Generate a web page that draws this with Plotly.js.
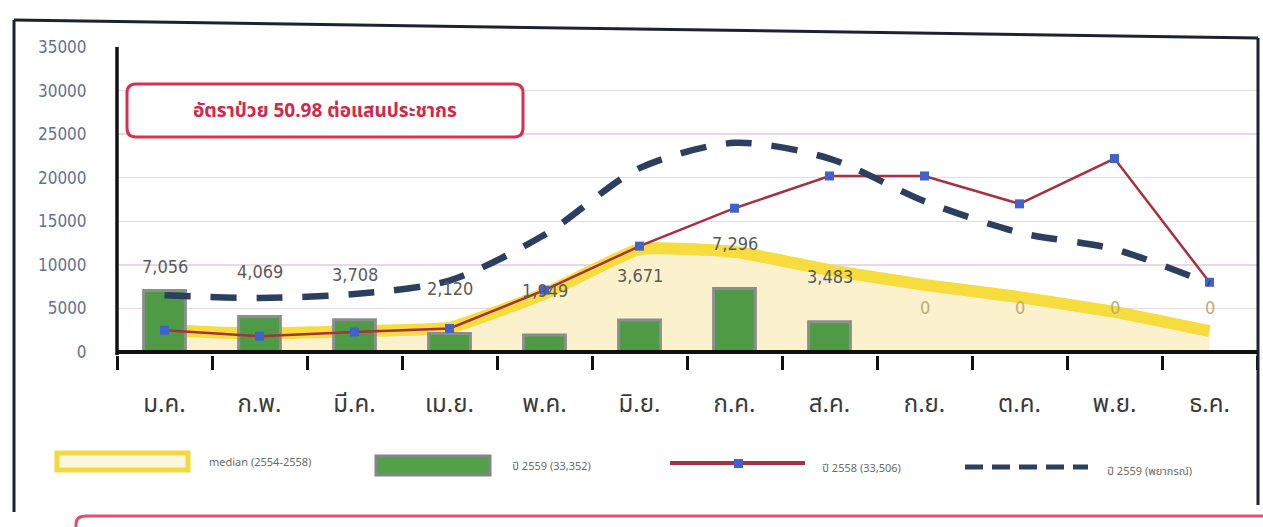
<!DOCTYPE html>
<html>
<head>
<meta charset="utf-8">
<script src="https://cdn.plot.ly/plotly-3.0.1.min.js"></script>
<style>
html,body{margin:0;padding:0;background:#fff;}
#chart{width:1263px;height:527px;}
</style>
</head>
<body>
<div id="chart"></div>
<script>
// ---- data ----
const months = ['ม.ค.','ก.พ.','มี.ค.','เม.ย.','พ.ค.','มิ.ย.','ก.ค.','ส.ค.','ก.ย.','ต.ค.','พ.ย.','ธ.ค.'];
const median = [2500, 2100, 2400, 2800, 6700, 11800, 11500, 9400, 7700, 6300, 4600, 2400];
const cases2559 = [7056, 4069, 3708, 2120, 1949, 3671, 7296, 3483, 0, 0, 0, 0];
const cases2558 = [2500, 1800, 2300, 2700, 7100, 12150, 16500, 20200, 20200, 17000, 22200, 8000];
const forecast2559 = [6500, 6200, 6650, 8200, 13450, 21100, 24000, 22200, 17300, 13700, 11800, 7850];
const yTicks = [0, 5000, 10000, 15000, 20000, 25000, 30000, 35000];
const legendNames = ['median (2554-2558)', 'ปี 2559 (33,352)', 'ปี 2558 (33,506)', 'ปี 2559 (พยากรณ์)'];
const noteText = 'อัตราป่วย 50.98 ต่อแสนประชากร';

// ---- geometry helpers (pixel -> paper) ----
const W = 1263, H = 527;
const L = 117, R = 1257, T = 47, B = 352;
const px = x => (x - L) / (R - L);
const py = y => (B - y) / (B - T);
function rrPath(x0, y0, x1, y1, r) {
  const p = (x, y) => px(x) + ',' + py(y);
  return 'M' + p(x0 + r, y0) + ' L' + p(x1 - r, y0) +
    ' Q' + p(x1, y0) + ' ' + p(x1, y0 + r) +
    ' L' + p(x1, y1 - r) + ' Q' + p(x1, y1) + ' ' + p(x1 - r, y1) +
    ' L' + p(x0 + r, y1) + ' Q' + p(x0, y1) + ' ' + p(x0, y1 - r) +
    ' L' + p(x0, y0 + r) + ' Q' + p(x0, y0) + ' ' + p(x0 + r, y0) + ' Z';
}

const numFont = 'Liberation Sans Narrow, DejaVu Sans Condensed, Liberation Sans, sans-serif';
const thaiFont = 'Noto Sans Thai, Noto Sans, DejaVu Sans, sans-serif';

const traces = [
  {
    type: 'scatter', x: months, y: median, mode: 'lines', fill: 'tozeroy',
    fillcolor: '#fbf1cc', line: {color: '#f6dc3c', width: 12, shape: 'spline', smoothing: 0.4},
    showlegend: false, hoverinfo: 'skip', zorder: 0
  },
  {
    type: 'bar', x: months, y: cases2559, width: 0.44,
    marker: {color: '#4f9b45', line: {color: '#8a8f8b', width: cases2559.map(v => v > 0 ? 3 : 0)}},
    showlegend: false, zorder: 1
  },
  {
    type: 'scatter', x: months, y: cases2558, mode: 'lines+markers',
    line: {color: '#a8303f', width: 2.5},
    marker: {symbol: 'square', size: 9, color: '#3f63c9'},
    showlegend: false, zorder: 2
  },
  {
    type: 'scatter', x: months, y: forecast2559, mode: 'lines',
    line: {color: '#2d3f5e', width: 6.5, dash: '26px,20px', shape: 'spline', smoothing: 0.8},
    showlegend: false, zorder: 3
  }
];

const annotations = cases2559.map((v, i) => ({
  x: months[i], y: v, xref: 'x', yref: 'y',
  text: v.toLocaleString('en-US'), showarrow: false,
  yanchor: 'middle', yshift: i === 0 ? 24 : 45,
  font: {family: numFont, size: 18, color: v === 0 ? '#b9ad78' : '#5a5a5a'}
}));

// note box text
annotations.push({
  xref: 'paper', yref: 'paper', x: px(325), y: py(111),
  xanchor: 'center', yanchor: 'middle',
  text: '<b>' + noteText + '</b>', showarrow: false,
  font: {family: thaiFont, size: 19, color: '#d1284b'}
});

// legend texts
const legTextPos = [[207, 462], [510, 466], [820, 468], [1105, 471]];
legendNames.forEach((n, i) => {
  annotations.push({
    xref: 'paper', yref: 'paper', x: px(legTextPos[i][0]), y: py(legTextPos[i][1]),
    xanchor: 'left', yanchor: 'middle', text: n, showarrow: false,
    font: {family: thaiFont, size: 11, color: '#6a6a6a'}
  });
});

const shapes = [
  // outer frame
  {type: 'line', xref: 'paper', yref: 'paper', x0: px(14), y0: py(20), x1: px(1258), y1: py(38), line: {color: '#1d2233', width: 3}},
  {type: 'line', xref: 'paper', yref: 'paper', x0: px(14), y0: py(20), x1: px(14), y1: py(512), line: {color: '#1d2233', width: 3}},
  {type: 'line', xref: 'paper', yref: 'paper', x0: px(1258), y0: py(38), x1: px(1258), y1: py(505), line: {color: '#1d2233', width: 3}},
  // axis lines (drawn above traces)
  {type: 'line', xref: 'paper', yref: 'paper', x0: 0, y0: 0, x1: 1, y1: 0, line: {color: '#111111', width: 4}},
  {type: 'line', xref: 'paper', yref: 'paper', x0: 0, y0: -0.01, x1: 0, y1: 1, line: {color: '#111111', width: 3.5}},
  // note box
  {type: 'path', xref: 'paper', yref: 'paper', path: rrPath(127, 84, 523, 137, 9), fillcolor: '#ffffff', line: {color: '#d8304f', width: 3}},
  // bottom pink box edge
  {type: 'path', xref: 'paper', yref: 'paper', path: 'M' + px(76) + ',' + py(535) + ' L' + px(76) + ',' + py(524) + ' Q' + px(76) + ',' + py(516) + ' ' + px(86) + ',' + py(516) + ' L' + px(1263) + ',' + py(516), line: {color: '#e0506e', width: 3}},
  // legend symbols
  {type: 'rect', xref: 'paper', yref: 'paper', x0: px(57), y0: py(453), x1: px(188), y1: py(470), fillcolor: '#fbf6de', line: {color: '#f3d93c', width: 5}},
  {type: 'rect', xref: 'paper', yref: 'paper', x0: px(376), y0: py(456), x1: px(490), y1: py(475), fillcolor: '#52a047', line: {color: '#80868a', width: 3}},
  {type: 'line', xref: 'paper', yref: 'paper', x0: px(670), y0: py(463), x1: px(805), y1: py(463), line: {color: '#a8303f', width: 4}},
  {type: 'rect', xref: 'paper', yref: 'paper', x0: px(734), y0: py(459), x1: px(743), y1: py(468), fillcolor: '#3f63c9', line: {width: 0}},
  {type: 'line', xref: 'paper', yref: 'paper', x0: px(965), y0: py(467), x1: px(1088), y1: py(467), line: {color: '#2d3f5e', width: 5, dash: '18px,9px'}}
];

const layout = {
  width: W, height: H,
  margin: {l: L, r: W - R, t: T, b: H - B},
  paper_bgcolor: '#ffffff', plot_bgcolor: '#ffffff',
  showlegend: false,
  bargap: 0.5,
  xaxis: {
    type: 'category', range: [-0.5, 11.5], fixedrange: true,
    showline: true, linecolor: '#111111', linewidth: 4,
    ticks: 'outside', tickson: 'boundaries', ticklen: 14, tickwidth: 3, tickcolor: '#111111',
    ticklabelstandoff: 27,
    tickfont: {family: thaiFont, size: 24, color: '#3a3a3a'},
    showgrid: false, zeroline: false
  },
  yaxis: {
    range: [0, 35000], tickvals: yTicks, ticktext: yTicks.map(String), fixedrange: true,
    showline: true, linecolor: '#111111', linewidth: 3, ticks: '',
    ticklabelstandoff: 24,
    tickfont: {family: numFont, size: 17, color: '#65718e'},
    showgrid: true, gridcolor: '#ead8e6', gridwidth: 1.5, zeroline: false
  },
  shapes: shapes,
  annotations: annotations
};

Plotly.newPlot('chart', traces, layout, {displayModeBar: false, staticPlot: true});
</script>
</body>
</html>
